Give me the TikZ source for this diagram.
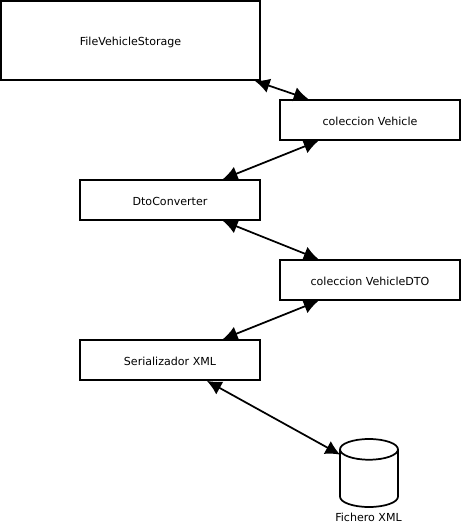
\documentclass[tikz,border=0pt]{standalone}
\usepackage{fontspec}
\setmainfont{DejaVu Sans}
\usetikzlibrary{shapes.geometric, arrows.meta}
\tikzset{
  label/.style={font=\fontsize{8.3pt}{9pt}\selectfont, text height=8.2pt, text depth=0pt},
  block/.style={rectangle, draw, line width=1.3pt, minimum width=135pt, minimum height=30pt,
                inner sep=0pt, label},
  bigblock/.style={block, line width=1.6pt, minimum width=194pt, minimum height=59pt},
  store/.style={cylinder, draw, line width=1.3pt, shape border rotate=90, aspect=0.37,
                minimum width=43.5pt, minimum height=51pt, inner xsep=21pt, inner ysep=15pt,
                anchor=shape center},
  arrow/.style={{Latex[length=11pt,width=11pt]}-{Latex[length=11pt,width=11pt]}, line width=1.3pt},
}
\begin{document}
\begin{tikzpicture}[x=0.75pt,y=-0.75pt]
  \useasboundingbox (0,0) rectangle (462,526);
  \node[bigblock] (storage) at (130.5,40.5) {FileVehicleStorage};
  \node[block] (vehicles) at (370,120) {coleccion Vehicle};
  \node[block] (converter) at (170,200) {DtoConverter};
  \node[block] (dtos) at (370,280) {coleccion VehicleDTO};
  \node[block] (serializer) at (170,360) {Serializador XML};
  \node[store] (xmlfile) at (369,473) {};
  \node[label] (xmllabel) at (368.5,516) {Fichero XML};

  \draw[arrow] ([xshift=-4.5pt]storage.south east) -- ([xshift=22pt]vehicles.north west);
  \draw[arrow] ([xshift=29.5pt]vehicles.south west) -- ([xshift=-28.5pt]converter.north east);
  \draw[arrow] ([xshift=-28.5pt]converter.south east) -- ([xshift=29.5pt]dtos.north west);
  \draw[arrow] ([xshift=29.5pt]dtos.south west) -- ([xshift=-28.5pt]serializer.north east);
  \draw[arrow] ([xshift=-40.5pt]serializer.south east) -- ([xshift=0.8pt,yshift=-4pt]xmlfile.before top);
\end{tikzpicture}
\end{document}
